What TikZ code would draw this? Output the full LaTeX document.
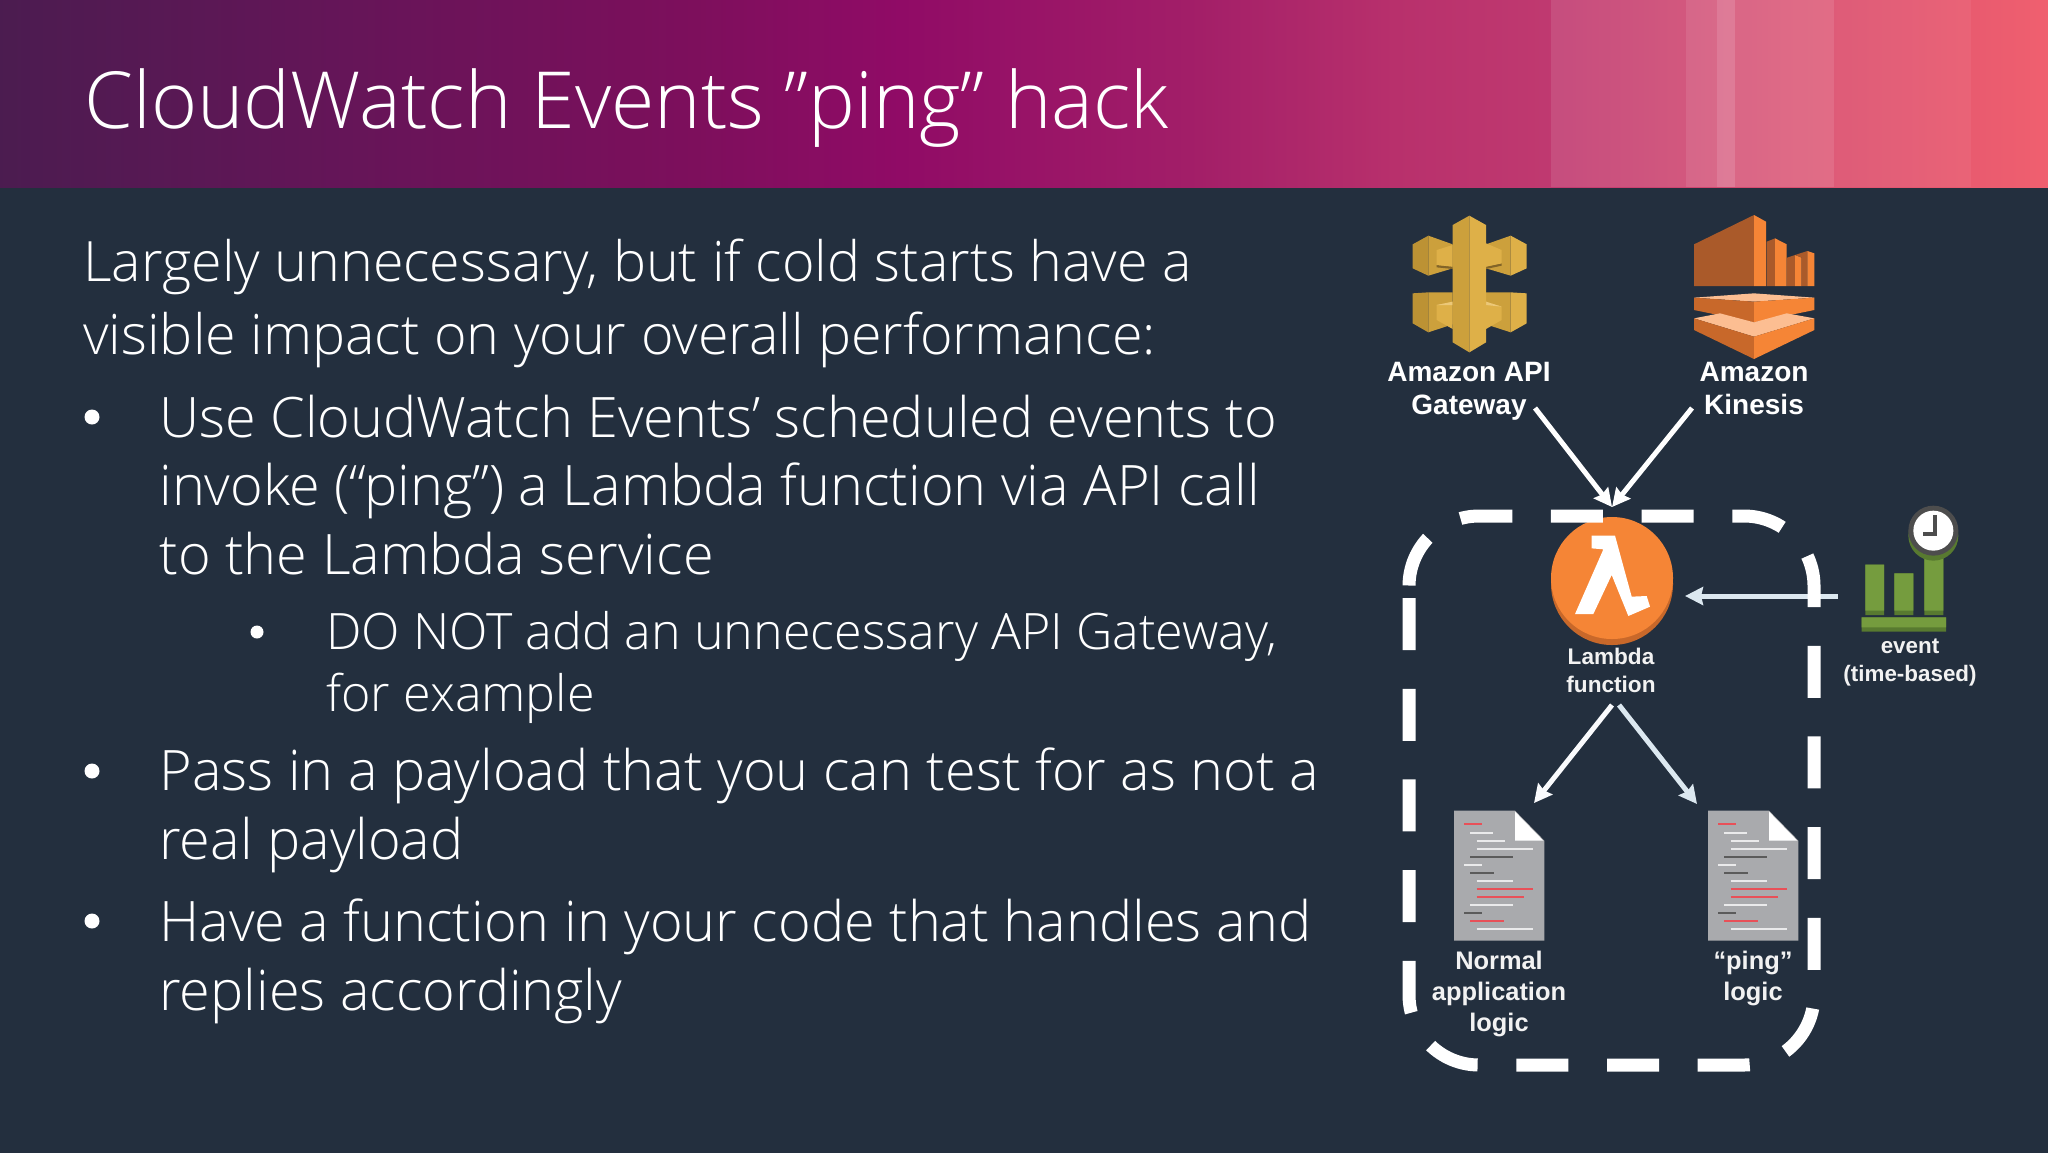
\documentclass[tikz,border=0pt]{standalone}
\usepackage{fontspec}
\usepackage{tikz}
\usetikzlibrary{arrows.meta, positioning, calc}
\setmainfont{Open Sans Light}
\newfontfamily\labelfont{Liberation Sans}[BoldFont={Liberation Sans Bold}]
\definecolor{slate1}{RGB}{35, 47, 62}
\definecolor{gold1}{RGB}{188, 146, 52}
\definecolor{gold2}{RGB}{204, 160, 60}
\definecolor{gold3}{RGB}{222, 176, 72}
\definecolor{gold4}{RGB}{236, 200, 120}
\definecolor{gold5}{RGB}{130, 100, 40}
\definecolor{orange1}{RGB}{245, 133, 54}
\definecolor{orange2}{RGB}{170, 90, 42}
\definecolor{orange3}{RGB}{200, 104, 42}
\definecolor{orange4}{RGB}{252, 190, 146}
\definecolor{green1}{RGB}{117, 156, 62}
\definecolor{green2}{RGB}{88, 122, 48}
\definecolor{gray1}{RGB}{169, 170, 173}
\definecolor{gray2}{RGB}{77, 77, 77}
\definecolor{ice1}{RGB}{220, 232, 240}
\definecolor{red1}{RGB}{232, 80, 88}
\definecolor{band0}{RGB}{75, 28, 80}
\definecolor{band1}{RGB}{101, 21, 88}
\definecolor{band2}{RGB}{125, 15, 92}
\definecolor{band3}{RGB}{144, 11, 102}
\definecolor{band4}{RGB}{162, 30, 104}
\definecolor{band5}{RGB}{184, 48, 108}
\definecolor{band6}{RGB}{192, 58, 112}
\definecolor{band7}{RGB}{216, 78, 112}
\definecolor{band8}{RGB}{240, 96, 111}
\pgfdeclarehorizontalshading{titlegrad}{100bp}{color(0bp)=(band0); color(25bp)=(band0); color(33.5bp)=(band1); color(42bp)=(band2);
  color(47bp)=(band3); color(54bp)=(band4); color(59bp)=(band5); color(63bp)=(band6); color(68.5bp)=(band7); color(75bp)=(band8); color(100bp)=(band8)}
\tikzset{
  titletext/.style={anchor=base west, inner sep=0, text=white, font=\fontsize{39.4}{39.4}\selectfont},
  leadtext/.style={anchor=base west, inner sep=0, text=white, align=left, font=\fontsize{27.8}{36.5}\selectfont},
  mainitem/.style={anchor=base west, inner sep=0, text=white, align=left, font=\fontsize{27.9}{34.2}\selectfont},
  subitem/.style={anchor=base west, inner sep=0, text=white, align=left, font=\fontsize{25.1}{31}\selectfont},
  dot/.style={circle, fill=white, inner sep=0, minimum size=7.5pt},
  biglabel/.style={anchor=base, inner sep=0, text=white, align=center, font=\labelfont\bfseries\fontsize{14}{16.5}\selectfont},
  smalllabel/.style={anchor=base, inner sep=0, text=white!95!black, align=center, font=\labelfont\bfseries\fontsize{11.3}{13.7}\selectfont},
  doclabel/.style={anchor=base, inner sep=0, text=white!95!black, align=center, font=\labelfont\bfseries\fontsize{12.7}{15.5}\selectfont},
  flow/.style={line width=2.5pt, -{Stealth[length=9pt,width=9pt,inset=1pt]}},
  docicon/.pic={
    \fill[gray1] (222,392) -- (405,392) -- (493,482) -- (493,782) -- (222,782) -- cycle;
    \fill[white] (405,395) -- (405,482) -- (490,482) -- cycle;
    \foreach \ly/\la/\lb/\lc in {433/252/305/red1, 458/270/338/white!75!gray1, 482/290/375/white!75!gray1,
      507/290/458/white!75!gray1, 531/270/400/gray2!85!gray1, 555/252/305/white!75!gray1, 579/270/342/gray2!85!gray1,
      603/290/400/white!75!gray1, 628/290/458/red1, 652/290/432/red1, 676/270/400/white!75!gray1,
      700/252/305/gray2!85!gray1, 724/270/372/red1, 748/290/458/white!75!gray1}
      \draw[\lc, line width=1pt] (\la,\ly) -- (\lb,\ly);
  }
}

\begin{document}
\begin{tikzpicture}[x=0.5pt, y=-0.5pt]
  \useasboundingbox (0,0) rectangle (2048,1152);
  \fill[slate1] (-4,-4) rectangle (2052,1156);
  \shade[shading=titlegrad] (-4,-4) rectangle (2052,187);
  \fill[white, opacity=.1] (1551,-4) rectangle (1686,187);
  \fill[white, opacity=.18] (1686,-4) rectangle (1717,187);
  \fill[white, opacity=.28] (1717,-4) rectangle (1735,187);
  \fill[white, opacity=.16] (1735,-4) rectangle (1834,187);
  \fill[white, opacity=.06] (1834,-4) rectangle (1971,187);

  \node[titletext] (title) at (84,128) {CloudWatch Events ”ping” hack};

  % left column
  \node[leadtext] (lead) at (83,354) {Largely unnecessary, but if cold starts have a\\visible impact on your overall performance:};
  \node[dot] (dotA) at (92,417) {};
  \node[mainitem] (itemA) at (159,574) {Use CloudWatch Events’ scheduled events to\\invoke (“ping”) a Lambda function via API call\\to the Lambda service};
  \node[dot, minimum size=6.5pt] (dotB) at (257,632) {};
  \node[subitem] (itemB) at (326,711) {DO NOT add an unnecessary API Gateway,\\for example};
  \node[dot] (dotC) at (92,771) {};
  \node[mainitem] (itemC) at (159,859) {Pass in a payload that you can test for as not a\\real payload};
  \node[dot] (dotD) at (92,921) {};
  \node[mainitem] (itemD) at (159,1010) {Have a function in your code that handles and\\replies accordingly};

  % api gateway icon
  \begin{scope}[shift={(1400,205)}, scale=1/3]
    \fill[gold1] (38,118) -- (85,92) -- (85,212) -- (38,190) -- cycle;
    \fill[gold2] (85,92) -- (158,118) -- (158,190) -- (85,212) -- cycle;
    \fill[gold5] (110,180) -- (158,185) -- (158,192) -- (110,187) -- cycle;
    \fill[gold3] (110,135) -- (158,120) -- (158,185) -- (110,180) -- cycle;
    \fill[gold2] (258,118) -- (332,92) -- (332,212) -- (258,190) -- cycle;
    \fill[gold3] (332,92) -- (380,118) -- (380,190) -- (332,212) -- cycle;
    \fill[gold5] (258,185) -- (305,175) -- (305,182) -- (258,192) -- cycle;
    \fill[gold3] (258,115) -- (305,135) -- (305,175) -- (258,185) -- cycle;
    \fill[gold1] (38,265) -- (85,262) -- (85,382) -- (38,355) -- cycle;
    \fill[gold2] (85,262) -- (158,262) -- (158,358) -- (85,382) -- cycle;
    \fill[gold3] (110,300) -- (158,290) -- (158,372) -- (110,345) -- cycle;
    \fill[gold4] (110,300) -- (158,290) -- (158,300) -- cycle;
    \fill[gold2] (258,262) -- (332,262) -- (332,382) -- (258,358) -- cycle;
    \fill[gold3] (332,262) -- (380,265) -- (380,355) -- (332,382) -- cycle;
    \fill[gold3] (258,290) -- (305,305) -- (305,345) -- (258,372) -- cycle;
    \fill[gold4] (258,290) -- (305,305) -- (258,300) -- cycle;
    \fill[gold2] (158,60) -- (208,32) -- (208,442) -- (158,412) -- cycle;
    \fill[gold3] (208,32) -- (258,60) -- (258,412) -- (208,442) -- cycle;
  \end{scope}
  \node[biglabel] (gwlabel) at (1469,414) {Amazon API\\Gateway};

  % kinesis icon
  \begin{scope}[shift={(1680,205)}, scale=1/3]
    \fill[orange2] (42,118) -- (222,30) -- (222,243) -- (42,243) -- cycle;
    \fill[orange1] (222,30) -- (258,50) -- (258,243) -- (222,243) -- cycle;
    \fill[orange2] (260,110) -- (285,100) -- (285,243) -- (260,243) -- cycle;
    \fill[orange1] (285,100) -- (320,118) -- (320,243) -- (285,243) -- cycle;
    \fill[orange2] (321,158) -- (345,150) -- (345,243) -- (321,243) -- cycle;
    \fill[orange1] (345,150) -- (365,158) -- (365,243) -- (345,243) -- cycle;
    \fill[orange2] (345,150) -- (382,138) -- (382,243) -- (365,243) -- (365,158) -- cycle;
    \fill[orange1] (382,138) -- (403,145) -- (403,243) -- (382,243) -- cycle;
    \fill[orange4] (42,278) -- (222,265) -- (403,278) -- (222,290) -- cycle;
    \fill[orange3] (42,278) -- (222,290) -- (222,352) -- (42,315) -- cycle;
    \fill[orange1] (403,278) -- (222,290) -- (222,352) -- (403,315) -- cycle;
    \fill[orange4] (42,340) -- (120,325) -- (222,352) -- (320,325) -- (403,340) -- (222,395) -- cycle;
    \fill[orange3] (42,340) -- (222,395) -- (222,462) -- (42,375) -- cycle;
    \fill[orange1] (403,340) -- (222,395) -- (222,462) -- (403,375) -- cycle;
  \end{scope}
  \node[biglabel] (kinlabel) at (1754,414) {Amazon\\Kinesis};

  % lambda
  \fill[orange3] (1612,584) circle (61);
  \node[circle, fill=orange1, inner sep=0, minimum size=61pt] (lambdafn) at (1612,578) {};
  \begin{scope}[shift={(1500,490)}, scale=1/3]
    \fill[white] (275,137) -- (345,137) -- (395,320) -- (440,318) -- (450,350) -- (385,378) -- (335,255) -- (280,372) -- (225,372) -- (310,178) -- (275,175) -- cycle;
  \end{scope}
  \node[smalllabel] (lambdalabel) at (1611,692) {Lambda\\function};

  % event icon
  \begin{scope}[shift={(1500,490)}, scale=1/3]
    \fill[green2] (1096,224) rectangle (1152,375) (1183,250) rectangle (1240,375) (1273,200) rectangle (1330,375) (1085,382) rectangle (1338,425);
    \fill[green1] (1096,224) rectangle (1152,362) (1183,250) rectangle (1240,362) (1273,200) rectangle (1330,362) (1085,382) rectangle (1338,412);
    \fill[green2] (1300,137) circle (75);
    \fill[gray2] (1300,122) circle (75);
    \fill[white] (1300,122) circle (60);
    \draw[gray2, line width=1.7pt] (1305,75) -- (1305,132) -- (1270,132);
  \end{scope}
  \node[smalllabel, font=\labelfont\bfseries\fontsize{11.2}{14}\selectfont] (eventlabel) at (1910,681) {event\\(time-based)};

  % code icons
  \pic[shift={(1380,680)}, scale=1/3] {docicon};
  \pic[shift={(1634,680)}, scale=1/3] {docicon};
  \node[doclabel] (normallabel) at (1499,1031) {Normal\\application\\logic};
  \node[doclabel] (pinglabel) at (1753,1000) {“ping”\\logic};

  % connectors
  \coordinate (gwout) at (1535,408);
  \coordinate (kinout) at (1692,408);
  \coordinate (lambdain) at (1612,507);
  \coordinate (lambdaoutL) at (1612,705);
  \coordinate (lambdaoutR) at (1619,705);
  \coordinate (normalin) at (1534,803);
  \coordinate (pingin) at (1697,804);
  \coordinate (eventout) at (1838,596);
  \coordinate (lambdaside) at (1685,596);
  \draw[flow, white] (gwout) -- (lambdain);
  \draw[flow, white] (kinout) -- (lambdain);
  \draw[flow, white!85!ice1] (lambdaoutL) -- (normalin);
  \draw[flow, ice1] (lambdaoutR) -- (pingin);
  \draw[flow, ice1] (eventout) -- (lambdaside);

  % dashed frame
  \draw[white, line width=6.5pt, rounded corners=35pt, dash pattern=on 26pt off 19.35pt, dash phase=43.1pt]
    (1409,590) -- (1409,516) -- (1814,516) -- (1814,1065) -- (1409,1065) -- (1409,597);
\end{tikzpicture}
\end{document}
